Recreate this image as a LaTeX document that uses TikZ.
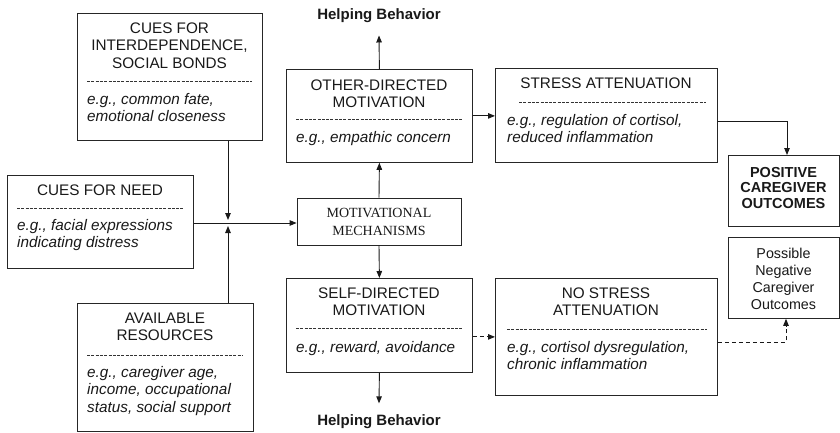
\documentclass[tikz,border=0pt]{standalone}
\usepackage{fontspec}
\setmainfont{Liberation Sans}
\newfontfamily\serifmm{Liberation Serif}
\usetikzlibrary{arrows.meta,calc}
\begin{document}
\begin{tikzpicture}[x=1pt,y=-1pt,
  box/.style={draw=black!85,line width=0.8pt,inner sep=0pt,anchor=north west},
  ttl/.style={inner sep=0pt,anchor=north,align=center,font=\fontsize{15.3}{17.5}\selectfont,text=black!90},
  ex/.style={inner sep=0pt,anchor=north west,align=left,font=\fontsize{15.3}{17.5}\selectfont\itshape,text=black!90},
  sepline/.style={draw=black!80,line width=0.6pt,dash pattern=on 3pt off 1.3pt},
  arr/.style={draw=black!90,line width=0.9pt,-{Triangle[length=7pt,width=5.5pt]}},
  darr/.style={arr,dash pattern=on 4pt off 3pt},
  hb/.style={font=\fontsize{15}{17}\selectfont\bfseries,text=black!90,inner xsep=0pt,anchor=base},
]
\fill[white] (0,0) rectangle (840,433);
\useasboundingbox (0,0) rectangle (840,433);

% Cues for interdependence
\node[box,minimum width=185pt,minimum height=127pt] (b1) at (77,13) {};
\node[ttl] (b1t) at (169.5,20.75) {\strut CUES FOR\\INTERDEPENDENCE,\\SOCIAL BONDS};
\draw[sepline] (87,81) -- (252,81);
\node[ex] (b1e) at (87,91.75) {\strut e.g., common fate,\\emotional closeness};

% Cues for need
\node[box,minimum width=186pt,minimum height=93pt] (b2) at (7,175) {};
\node[ttl] (b2t) at (100,182.75) {\strut CUES FOR NEED};
\draw[sepline] (17,208) -- (183,208);
\node[ex] (b2e) at (17,217.75) {\strut e.g., facial expressions\\indicating distress};

% Available resources
\node[box,minimum width=176pt,minimum height=128pt] (b3) at (77,303) {};
\node[ttl] (b3t) at (165,310.75) {\strut AVAILABLE\\RESOURCES};
\draw[sepline] (87,355) -- (243,355);
\node[ex] (b3e) at (87,364.75) {\strut e.g., caregiver age,\\income, occupational\\status, social support};

% Motivational mechanisms
\node[draw=black!85,line width=0.8pt,minimum width=164pt,minimum height=47pt,inner sep=0pt,align=center,
  font=\serifmm\fontsize{14}{18}\selectfont,text=black!90] (mm) at (379,221.5) {MOTIVATIONAL\\MECHANISMS};

% Other-directed motivation
\node[box,minimum width=186pt,minimum height=93pt] (od) at (286,69) {};
\node[ttl] (odt) at (379,77.75) {\strut OTHER-DIRECTED\\MOTIVATION};
\draw[sepline] (296,119) -- (462,119);
\node[ex] (ode) at (296,129.75) {\strut e.g., empathic concern};

% Self-directed motivation
\node[box,minimum width=186pt,minimum height=94pt] (sd) at (286,278) {};
\node[ttl] (sdt) at (379,285.75) {\strut SELF-DIRECTED\\MOTIVATION};
\draw[sepline] (296,328) -- (462,328);
\node[ex] (sde) at (296,339.75) {\strut e.g., reward, avoidance};

% Stress attenuation
\node[box,minimum width=222pt,minimum height=94pt] (sa) at (495,68) {};
\node[ttl] (sat) at (606,75.75) {\strut STRESS ATTENUATION};
\draw[sepline] (519,102) -- (706,102);
\node[ex] (sae) at (507,112.75) {\strut e.g., regulation of cortisol,\\reduced inflammation};

% No stress attenuation
\node[box,minimum width=222pt,minimum height=117pt] (ns) at (495,278) {};
\node[ttl] (nst) at (606,285.75) {\strut NO STRESS\\ATTENUATION};
\draw[sepline] (507,329) -- (707,329);
\node[ex] (nse) at (507,339.75) {\strut e.g., cortisol dysregulation,\\chronic inflammation};

% Outcomes
\node[box,minimum width=111pt,minimum height=71pt] (pos) at (728,155) {};
\node[inner sep=0pt,anchor=north,align=center,font=\fontsize{14.5}{15.5}\selectfont\bfseries,text=black!90] (post) at (783.5,166.15) {\strut POSITIVE\\CAREGIVER\\OUTCOMES};
\node[box,minimum width=111pt,minimum height=81pt] (neg) at (728,237) {};
\node[inner sep=0pt,anchor=north,align=center,font=\fontsize{14.3}{17}\selectfont,text=black!90] (negt) at (783.5,246.1) {\strut Possible\\Negative\\Caregiver\\Outcomes};

% Helping behavior labels
\node[hb,inner ysep=12.8pt] (hb1) at (379,19.3) {Helping Behavior};
\node[hb,inner ysep=11.3pt] (hb2) at (379,425.7) {Helping Behavior};

% Connectors
\coordinate (j) at (228,223);
\draw[arr] (b1.south -| j) -- ([yshift=3pt]j);
\draw[arr] (b3.north -| j) -- ([yshift=-3pt]j);
\draw[arr] (b2.east |- j) -- (mm.west |- j);
\draw[arr] (mm.north) -- (od.south);
\draw[arr] (mm.south) -- (sd.north);
\draw[arr] (od.north) -- (hb1.south);
\draw[arr] (sd.south) -- (hb2.north);
\draw[arr] (od.east) -- (sa.west |- od.east);
\coordinate (c1) at (787,121);
\draw[arr] (sa.east |- c1) -- (c1) -- (pos.north -| c1);
\draw[darr] (sd.east |- ns.west) -- (ns.west);
\coordinate (c2) at (786,342);
\draw[darr] (ns.east |- c2) -- (c2) -- (neg.south -| c2);
\end{tikzpicture}
\end{document}
